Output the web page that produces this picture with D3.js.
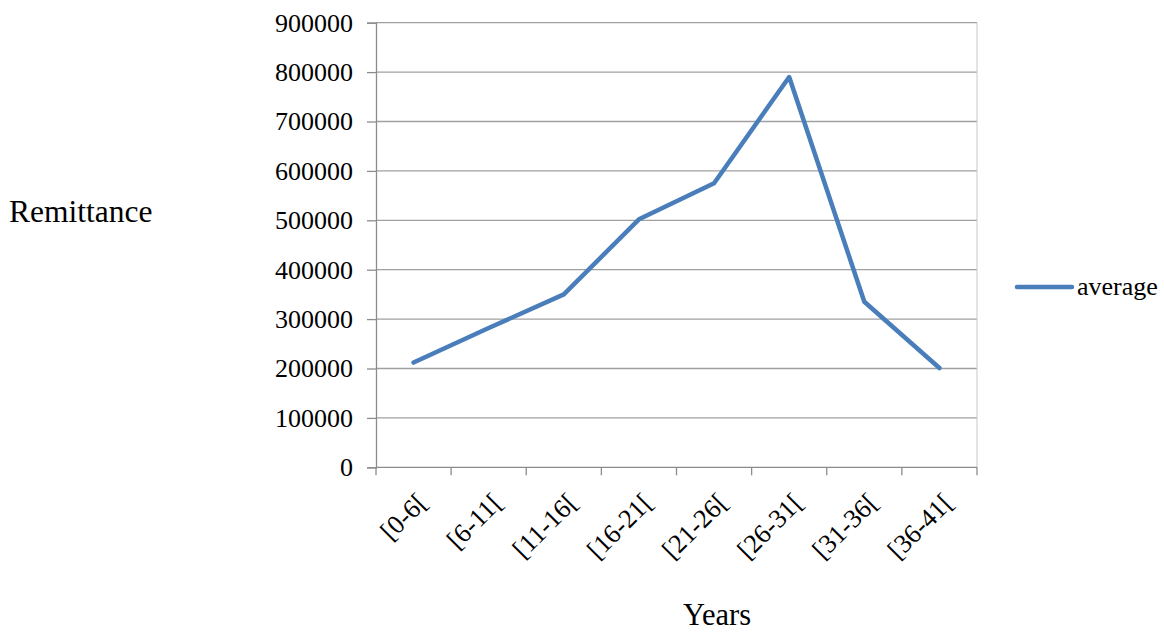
<!DOCTYPE html>
<html>
<head>
<meta charset="utf-8">
<script src="https://cdn.jsdelivr.net/npm/d3@7/dist/d3.min.js"></script>
<style>
    body { margin: 0; background: #fff; }
    svg text { font-family: "Liberation Serif", "Times New Roman", serif; fill: #000; }
</style>
</head>
<body>
<div id="chart"></div>
<script>
// Data
const categories = ["[0-6[", "[6-11[", "[11-16[", "[16-21[", "[21-26[", "[26-31[", "[31-36[", "[36-41["];
const averageValues = [212000, 282000, 350000, 502000, 575000, 790000, 335000, 201000];
const yTicks = [0, 100000, 200000, 300000, 400000, 500000, 600000, 700000, 800000, 900000];
const seriesName = "average";

const width = 1164, height = 633;
const margin = { top: 22.7, right: 187, bottom: 165.7, left: 376 };

const svg = d3.select('#chart')
    .append('svg')
    .attr('width', width)
    .attr('height', height);

const xScale = d3.scaleBand()
    .domain(categories)
    .range([margin.left, width - margin.right]);

const yScale = d3.scaleLinear()
    .domain([0, 900000])
    .range([height - margin.bottom, margin.top]);

const lineColor = '#4a7ebb';
const gridColor = '#a0a0a0';

// Horizontal gridlines
svg.append('g')
    .selectAll('line')
    .data(yTicks.filter(d => d > 0))
    .enter()
    .append('line')
    .attr('x1', margin.left)
    .attr('x2', width - margin.right)
    .attr('y1', d => yScale(d))
    .attr('y2', d => yScale(d))
    .attr('stroke', gridColor)
    .attr('stroke-width', 1.3);

// Right border of plot area
svg.append('line')
    .attr('x1', width - margin.right)
    .attr('x2', width - margin.right)
    .attr('y1', margin.top)
    .attr('y2', yScale(0))
    .attr('stroke', '#c8c8c8')
    .attr('stroke-width', 1);

// Y axis
const yAxis = d3.axisLeft(yScale)
    .tickValues(yTicks)
    .tickSize(9)
    .tickPadding(14)
    .tickFormat(d3.format('d'));
const yG = svg.append('g')
    .attr('transform', `translate(${margin.left},0)`)
    .call(yAxis);
yG.selectAll('path, line').attr('stroke', '#8c8c8c').attr('stroke-width', 1.3);
yG.selectAll('text').attr('font-size', '26px').attr('font-family', '"Liberation Serif", serif').attr('fill', '#000');

// X axis with ticks at category boundaries
const xG = svg.append('g')
    .attr('transform', `translate(0,${yScale(0)})`);
xG.append('line')
    .attr('x1', margin.left)
    .attr('x2', width - margin.right)
    .attr('stroke', '#8c8c8c')
    .attr('stroke-width', 1.3);
const boundaries = categories.map(c => xScale(c)).concat([xScale.range()[1]]);
xG.selectAll('line.tick')
    .data(boundaries)
    .enter()
    .append('line')
    .attr('class', 'tick')
    .attr('x1', d => d)
    .attr('x2', d => d)
    .attr('y1', 0)
    .attr('y2', 8)
    .attr('stroke', '#8c8c8c')
    .attr('stroke-width', 1.3);
xG.selectAll('text')
    .data(categories)
    .enter()
    .append('text')
    .attr('transform', d => `translate(${xScale(d) + xScale.bandwidth() / 2 + 15},${37}) rotate(-45)`)
    .attr('text-anchor', 'end')
    .attr('font-size', '26.5px')
    .text(d => d);

// Series line
const line = d3.line()
    .x((d, i) => xScale(categories[i]) + xScale.bandwidth() / 2)
    .y(d => yScale(d));

svg.append('path')
    .datum(averageValues)
    .attr('d', line)
    .attr('fill', 'none')
    .attr('stroke', lineColor)
    .attr('stroke-width', 4.5)
    .attr('stroke-linejoin', 'round')
    .attr('stroke-linecap', 'round');

// Axis titles
svg.append('text')
    .attr('x', 9)
    .attr('y', 222)
    .attr('font-size', '31.5px')
    .text('Remittance');

svg.append('text')
    .attr('x', 683)
    .attr('y', 625)
    .attr('font-size', '30.5px')
    .text('Years');

// Legend
const legend = svg.append('g').attr('transform', 'translate(1017,287)');
legend.append('line')
    .attr('x1', 0)
    .attr('x2', 55)
    .attr('stroke', lineColor)
    .attr('stroke-width', 4.5)
    .attr('stroke-linecap', 'round');
legend.append('text')
    .attr('x', 60)
    .attr('y', 8)
    .attr('font-size', '26px')
    .text(seriesName);
</script>
</body>
</html>
